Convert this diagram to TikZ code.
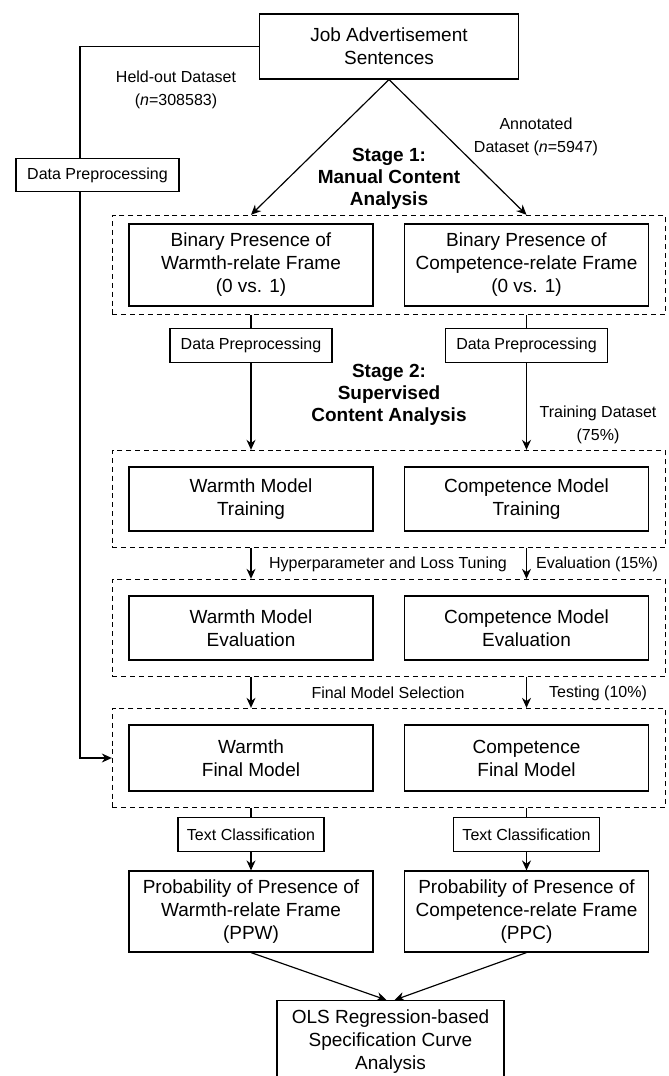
\documentclass[tikz,border=0pt]{standalone}
\usepackage{fontspec}
\setmainfont{Liberation Sans}
\usetikzlibrary{arrows.meta,fit}

\tikzset{
	box/.style={draw,fill=white,line width=0.7pt,align=center,inner sep=0pt,
		minimum width=146.4pt,font=\fontsize{11.4}{13.8}\selectfont},
	smallbox/.style={draw,fill=white,line width=0.7pt,inner sep=0pt,
		minimum height=20pt,font=\fontsize{9.6}{12}\selectfont},
	frame/.style={draw,line width=0.7pt,dash pattern=on 3pt off 2.3pt,
		inner xsep=9.6pt,inner ysep=9.6pt},
	arrow/.style={line width=0.7pt,-{Stealth[length=6pt,width=5.4pt]}},
	line/.style={line width=0.7pt},
	lbl/.style={align=center,inner sep=1pt,font=\fontsize{9.6}{13.6}\selectfont},
	stage/.style={align=center,inner sep=0pt,font=\fontsize{11.4}{13.4}\selectfont\bfseries}
}

\begin{document}
\begin{tikzpicture}[x=0.6pt,y=-0.6pt]
	\useasboundingbox (0,0) rectangle (669,1076);
	\clip (0,0) rectangle (669,1076);

	% source and the held-out branch
	\node[box,minimum width=155.4pt,minimum height=39pt] (job) at (389,46.5) {Job Advertisement\\Sentences};
	\coordinate (held) at (80,0);

	% the two columns, warmth left and competence right
	\node[box,minimum height=49.2pt] (warmBin) at (251,265) {Binary Presence of\\Warmth-relate Frame\\(0 vs. 1)};
	\node[box,minimum height=49.2pt] (compBin) at (526.5,265) {Binary Presence of\\Competence-relate Frame\\(0 vs. 1)};
	\node[box,minimum height=38.4pt] (warmTrain) at (251,499) {Warmth Model\\Training};
	\node[box,minimum height=38.4pt] (compTrain) at (526.5,499) {Competence Model\\Training};
	\node[box,minimum height=38.4pt] (warmEval) at (251,628) {Warmth Model\\Evaluation};
	\node[box,minimum height=38.4pt] (compEval) at (526.5,628) {Competence Model\\Evaluation};
	\node[box,minimum height=39.6pt] (warmFinal) at (251,758) {Warmth\\Final Model};
	\node[box,minimum height=39.6pt] (compFinal) at (526.5,758) {Competence\\Final Model};
	\node[box,minimum height=48.6pt] (ppw) at (251,911.5) {Probability of Presence of\\Warmth-relate Frame\\(PPW)};
	\node[box,minimum height=48.6pt] (ppc) at (526.5,911.5) {Probability of Presence of\\Competence-relate Frame\\(PPC)};
	\node[box,minimum width=136.2pt,minimum height=49pt,anchor=north] (ols) at (390.5,1000) {OLS Regression-based\\Specification Curve\\Analysis};

	% dashed stage frames
	\node[frame,inner ysep=4.8pt,fit=(warmBin)(compBin)] (binFrame) {};
	\node[frame,fit=(warmTrain)(compTrain)] (trainFrame) {};
	\node[frame,fit=(warmEval)(compEval)] (evalFrame) {};
	\node[frame,fit=(warmFinal)(compFinal)] (finalFrame) {};

	% connectors
	\draw[arrow] (job.west) -| (held |- finalFrame.west) -- (finalFrame.west);
	\draw[arrow] (job.south) -- (binFrame.north -| warmBin);
	\draw[arrow] (job.south) -- (binFrame.north -| compBin);

	\node[smallbox,minimum width=97.8pt] (heldPre) at (97.5,175) {Data Preprocessing};
	\node[smallbox,minimum width=97.2pt] (warmPre) at (251,345.5) {Data Preprocessing};
	\node[smallbox,minimum width=97.2pt] (compPre) at (526.5,345.5) {Data Preprocessing};
	\node[smallbox,minimum width=87.6pt] (warmTC) at (251,834.5) {Text Classification};
	\node[smallbox,minimum width=87.6pt] (compTC) at (526.5,834.5) {Text Classification};

	\foreach \side in {warm,comp}{
		\draw[line] (binFrame.south -| \side Bin) -- (\side Pre.north);
		\draw[arrow] (\side Pre.south) -- (trainFrame.north -| \side Pre);
		\draw[arrow] (trainFrame.south -| \side Train) -- (evalFrame.north -| \side Train);
		\draw[arrow] (evalFrame.south -| \side Eval) -- (finalFrame.north -| \side Eval);
		\draw[line] (finalFrame.south -| \side Final) -- (\side TC.north);
		\draw[arrow] (\side TC.south) -- (\side TC.south |- ppw.north);
	}
	\draw[arrow] (ppw.south) -- ([xshift=-2.4pt]ols.north);
	\draw[arrow] (ppc.south) -- ([xshift=2.4pt]ols.north);

	% labels
	\node[lbl] (heldLbl) at (176,90) {Held-out Dataset\\(\textit{n}=308583)};
	\node[lbl] (annLbl) at (536,137) {Annotated\\Dataset (\textit{n}=5947)};
	\node[stage] (stageOne) at (389,179) {Stage 1:\\Manual Content\\Analysis};
	\node[stage] (stageTwo) at (389,395) {Stage 2:\\Supervised\\Content Analysis};
	\node[lbl] (trainLbl) at (598,425) {Training Dataset\\(75\%)};
	\node[lbl] (tuneLbl) at (388,564) {Hyperparameter and Loss Tuning};
	\node[lbl] (evalLbl) at (597,564) {Evaluation (15\%)};
	\node[lbl] (selLbl) at (388,693) {Final Model Selection};
	\node[lbl] (testLbl) at (598,693) {Testing (10\%)};
\end{tikzpicture}
\end{document}
